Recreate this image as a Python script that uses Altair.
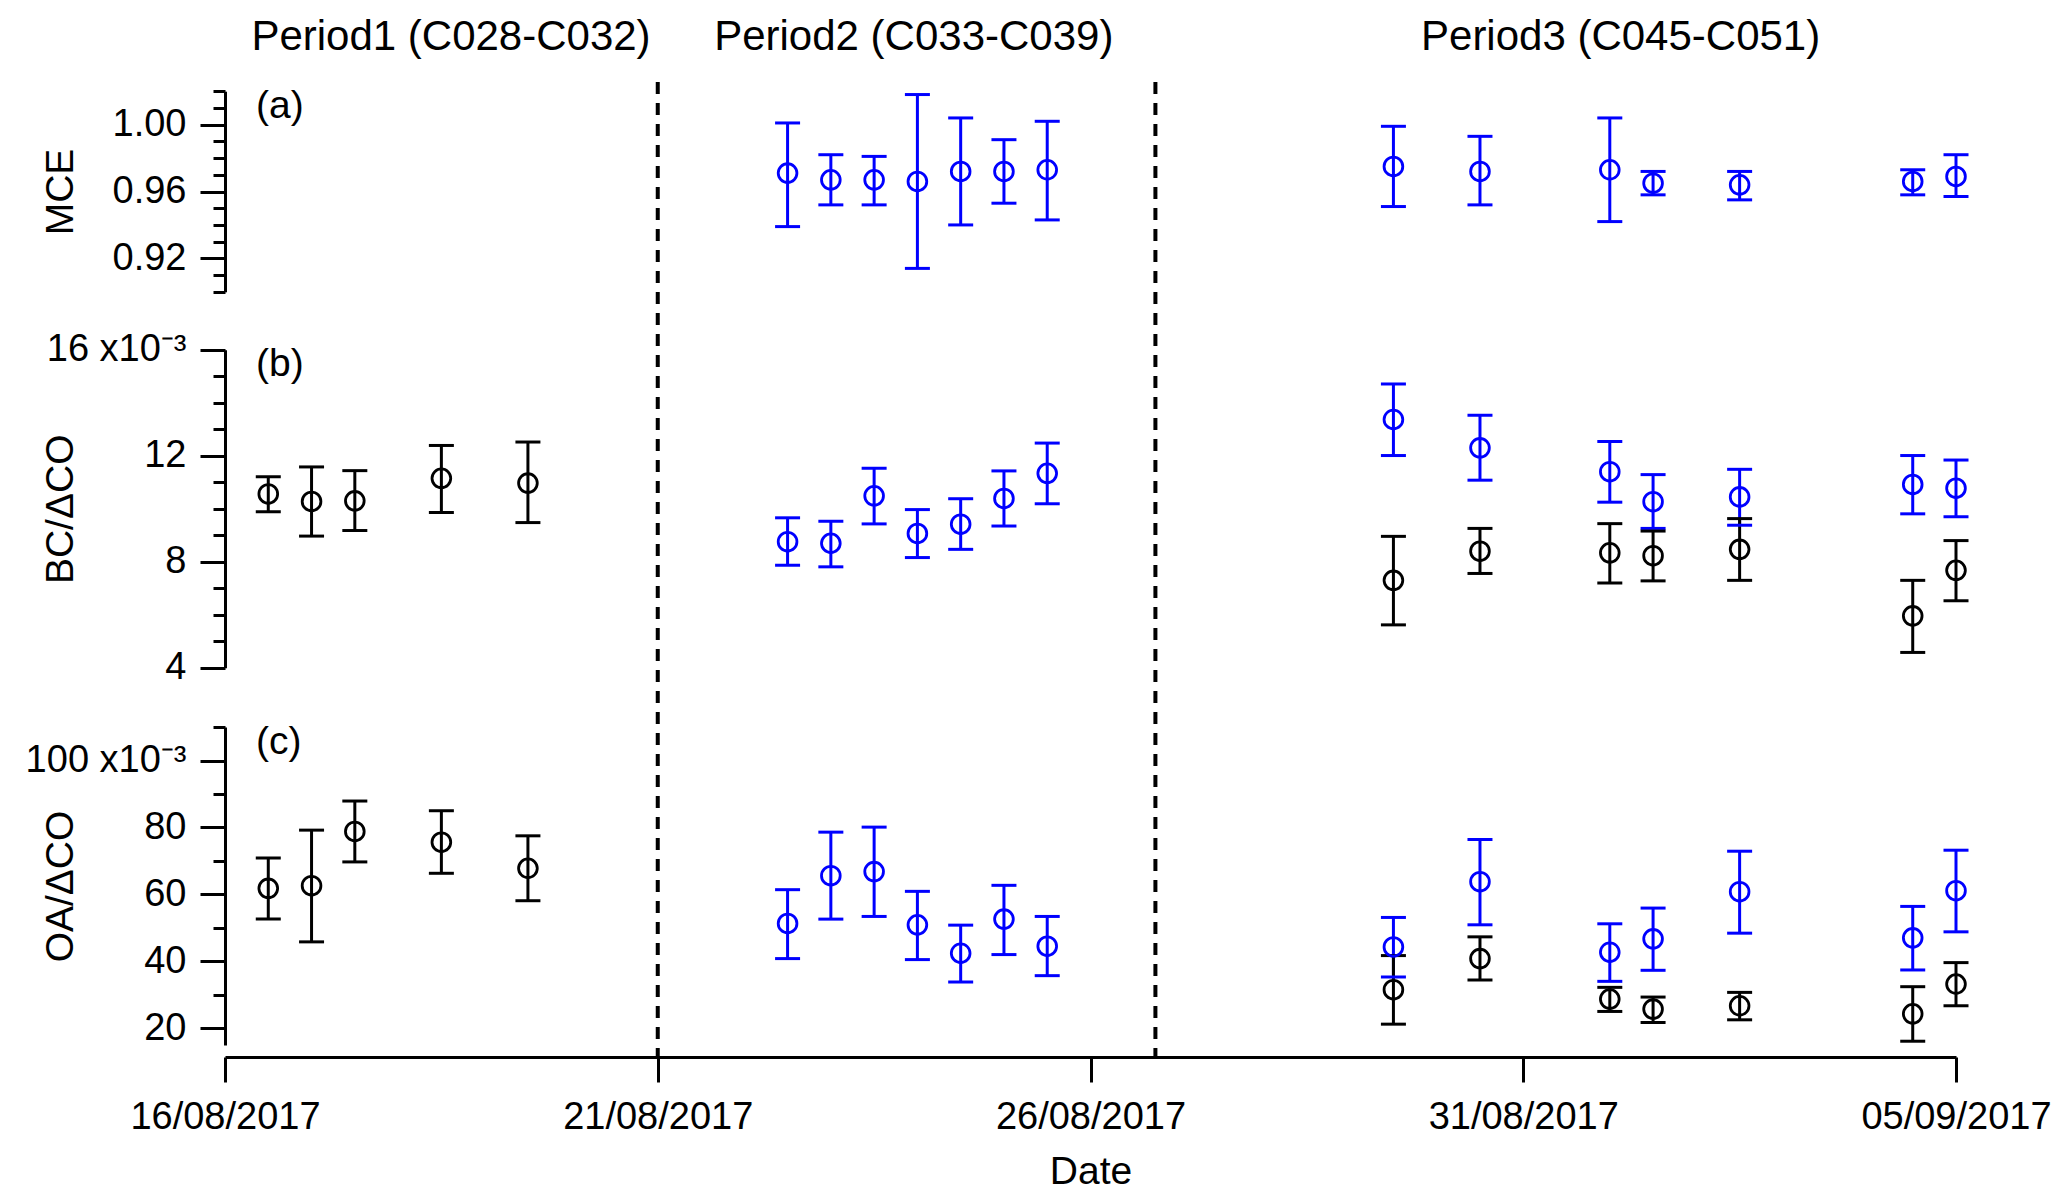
import altair as alt
import pandas as pd

FONT = "Liberation Sans"
BLUE = "#0000ff"
BLACK = "#000000"

# ---------------- data ----------------
dates_p1 = ["2017-08-16T12:00", "2017-08-17T00:00", "2017-08-17T12:00",
            "2017-08-18T12:00", "2017-08-19T12:00"]
dates_p2 = ["2017-08-22T12:00", "2017-08-23T00:00", "2017-08-23T12:00",
            "2017-08-24T00:00", "2017-08-24T12:00", "2017-08-25T00:00",
            "2017-08-25T12:00"]
dates_p3 = ["2017-08-29T12:00", "2017-08-30T12:00", "2017-09-01T00:00",
            "2017-09-01T12:00", "2017-09-02T12:00", "2017-09-04T12:00",
            "2017-09-05T00:00"]

# (a) MCE - blue
mce_p2 = [0.971, 0.967, 0.967, 0.966, 0.972, 0.972, 0.973]
mce_p2_lo = [0.939, 0.952, 0.952, 0.914, 0.940, 0.953, 0.943]
mce_p2_hi = [1.001, 0.982, 0.981, 1.018, 1.004, 0.991, 1.002]
mce_p3 = [0.975, 0.972, 0.973, 0.965, 0.964, 0.966, 0.969]
mce_p3_lo = [0.951, 0.952, 0.942, 0.958, 0.955, 0.958, 0.957]
mce_p3_hi = [0.999, 0.993, 1.004, 0.972, 0.972, 0.973, 0.982]

# (b) BC/dCO (x 10^-3)
bc_p1_k = [10.56, 10.28, 10.30, 11.15, 10.97]
bc_p1_k_lo = [9.89, 8.97, 9.18, 9.86, 9.48]
bc_p1_k_hi = [11.21, 11.58, 11.44, 12.39, 12.52]
bc_p2_b = [8.76, 8.70, 10.49, 9.07, 9.42, 10.39, 11.34]
bc_p2_b_lo = [7.87, 7.81, 9.43, 8.16, 8.47, 9.35, 10.19]
bc_p2_b_hi = [9.66, 9.53, 11.53, 9.97, 10.38, 11.43, 12.48]
bc_p3_b = [13.37, 12.30, 11.40, 10.27, 10.45, 10.92, 10.78]
bc_p3_b_lo = [12.01, 11.08, 10.25, 9.26, 9.38, 9.81, 9.70]
bc_p3_b_hi = [14.71, 13.53, 12.54, 11.29, 11.49, 12.01, 11.84]
bc_p3_k = [7.30, 8.40, 8.34, 8.23, 8.47, 5.96, 7.68]
bc_p3_k_lo = [5.62, 7.56, 7.20, 7.28, 7.30, 4.58, 6.53]
bc_p3_k_hi = [8.96, 9.26, 9.44, 9.16, 9.63, 7.30, 8.80]

# (c) OA/dCO (x 10^-3)
oa_p1_k = [61.8, 62.6, 78.8, 75.6, 67.8]
oa_p1_k_lo = [52.6, 45.8, 69.7, 66.3, 58.1]
oa_p1_k_hi = [70.9, 79.2, 87.9, 85.0, 77.5]
oa_p2_b = [51.3, 65.6, 66.8, 50.9, 42.4, 52.6, 44.5]
oa_p2_b_lo = [40.8, 52.6, 53.4, 40.5, 33.8, 42.0, 35.7]
oa_p2_b_hi = [61.4, 78.6, 80.1, 60.9, 50.8, 62.7, 53.4]
oa_p3_b = [44.3, 63.8, 42.7, 46.7, 60.8, 47.0, 61.1]
oa_p3_b_lo = [35.3, 50.9, 34.0, 37.3, 48.4, 37.4, 48.8]
oa_p3_b_hi = [53.1, 76.4, 51.2, 55.9, 72.9, 56.4, 73.2]
oa_p3_k = [31.5, 40.8, 28.7, 25.7, 26.7, 24.3, 33.2]
oa_p3_k_lo = [21.2, 34.4, 25.0, 21.7, 22.5, 16.1, 26.7]
oa_p3_k_hi = [41.7, 47.3, 32.2, 29.3, 30.7, 32.4, 39.6]

divider_dates = ["2017-08-21T00:00", "2017-08-26T18:00"]
period_labels = ["Period1 (C028-C032)", "Period2 (C033-C039)", "Period3 (C045-C051)"]
period_label_dates = ["2017-08-18T14:40", "2017-08-23T23:00", "2017-09-01T03:00"]
panel_letters = ["(a)", "(b)", "(c)"]

x_tick_dates = [(8, 16), (8, 21), (8, 26), (8, 31), (9, 5)]
x_domain = [(8, 16), (9, 5)]

# ---------------- helpers ----------------
def dt(md):
    return alt.DateTime(year=2017, month=md[0], date=md[1])


def xenc(field="date"):
    return alt.X(
        f"{field}:T",
        scale=alt.Scale(domain=[dt(d) for d in x_domain]),
        axis=alt.Axis(values=[dt(d) for d in x_tick_dates], format="%d/%m/%Y",
                      title="Date", tickSize=25, labelPadding=16, titlePadding=16,
                      grid=False, labelFlush=False, labelOverlap=False, labelLimit=0),
    )


def make_df(groups):
    rows = []
    for grp, dates, v, lo, hi in groups:
        for d, a, b, c in zip(dates, v, lo, hi):
            rows.append({"date": d, "v": a, "lo": b, "hi": c, "grp": grp})
    return pd.DataFrame(rows)


color = alt.Color("grp:N", scale=alt.Scale(domain=["black", "blue"], range=[BLACK, BLUE]),
                  legend=None)


def panel(df, title, domain, rng, values, major_test, label_expr):
    yaxis = alt.Axis(values=values, title=title, orient="left", labelExpr=label_expr,
                     tickSize={"condition": {"test": major_test, "value": 25}, "value": 12},
                     labelPadding=14, grid=False, titleX=-165, titleBaseline="middle",
                     labelOverlap=False, labelLimit=0)
    ysc = alt.Scale(domain=domain, range=rng, nice=False, zero=False)

    def Y(f):
        return alt.Y(f"{f}:Q", scale=ysc, axis=yaxis)

    base = alt.Chart(df)
    rule = base.mark_rule(strokeWidth=3).encode(x=xenc(), y=Y("lo"), y2=alt.Y2("hi:Q"), color=color)
    cap_lo = base.mark_tick(orient="horizontal", size=25, thickness=3, opacity=1).encode(
        x=xenc(), y=Y("lo"), color=color)
    cap_hi = base.mark_tick(orient="horizontal", size=25, thickness=3, opacity=1).encode(
        x=xenc(), y=Y("hi"), color=color)
    pts = base.mark_point(shape="circle", filled=False, size=350, strokeWidth=2.8, opacity=1).encode(
        x=xenc(), y=Y("v"), color=color)
    return alt.layer(rule, cap_lo, cap_hi, pts)


df_a = make_df([
    ("blue", dates_p2, mce_p2, mce_p2_lo, mce_p2_hi),
    ("blue", dates_p3, mce_p3, mce_p3_lo, mce_p3_hi),
])
df_b = make_df([
    ("blue", dates_p2, bc_p2_b, bc_p2_b_lo, bc_p2_b_hi),
    ("blue", dates_p3, bc_p3_b, bc_p3_b_lo, bc_p3_b_hi),
    ("black", dates_p1, bc_p1_k, bc_p1_k_lo, bc_p1_k_hi),
    ("black", dates_p3, bc_p3_k, bc_p3_k_lo, bc_p3_k_hi),
])
df_c = make_df([
    ("blue", dates_p2, oa_p2_b, oa_p2_b_lo, oa_p2_b_hi),
    ("blue", dates_p3, oa_p3_b, oa_p3_b_lo, oa_p3_b_hi),
    ("black", dates_p1, oa_p1_k, oa_p1_k_lo, oa_p1_k_hi),
    ("black", dates_p3, oa_p3_k, oa_p3_k_lo, oa_p3_k_hi),
])

mce_ticks = [round(0.90 + 0.01 * i, 2) for i in range(13)]
bc_ticks = list(range(4, 17))
oa_ticks = list(range(20, 111, 10))

pa = panel(df_a, "MCE", [0.90, 1.02], [209.8, 9.2], mce_ticks,
           "round(datum.value*100) % 4 == 0",
           "round(datum.value*100) % 4 == 0 ? format(datum.value, '.2f') : ''")
pb = panel(df_b, "BC/\u0394CO", [4, 16], [585.8, 267.8], bc_ticks,
           "round(datum.value) % 4 == 0",
           "round(datum.value) == 16 ? '16 x10\u207b\u00b3' : (round(datum.value) % 4 == 0 ? format(datum.value, 'd') : '')")
pc = panel(df_c, "OA/\u0394CO", [15, 110], [962.9, 645.1], oa_ticks,
           "round(datum.value) % 20 == 0",
           "round(datum.value) == 100 ? '100 x10\u207b\u00b3' : (round(datum.value) % 20 == 0 ? format(datum.value, 'd') : '')")

dashed = alt.Chart(pd.DataFrame({"date": divider_dates})).mark_rule(
    strokeDash=[12, 9], strokeWidth=4, color=BLACK).encode(x=xenc())

periods = alt.Chart(pd.DataFrame({"date": period_label_dates, "label": period_labels})).mark_text(
    font=FONT, fontSize=42, baseline="middle", align="center", color=BLACK).encode(
    x=xenc(), y=alt.value(-45), text="label:N")

letter_layers = []
for lab, yy in zip(panel_letters, [24, 282, 660]):
    letter_layers.append(
        alt.Chart(pd.DataFrame({"t": [lab]})).mark_text(
            font=FONT, fontSize=39, baseline="middle", align="left", color=BLACK).encode(
            x=alt.value(31), y=alt.value(yy), text="t:N"))

chart = alt.layer(pa, pb, pc, dashed, periods, *letter_layers).resolve_scale(
    y="independent"
).properties(
    width=1731, height=975,
    autosize=alt.AutoSizeParams(type="none"),
    padding={"left": 217, "top": 74, "right": 100, "bottom": 134},
).configure_axis(
    labelFont=FONT, titleFont=FONT, labelFontSize=38, titleFontSize=39,
    titleFontWeight="normal", labelColor=BLACK, titleColor=BLACK,
    domainColor=BLACK, tickColor=BLACK, domainWidth=3, tickWidth=3,
).configure_view(stroke=None)

chart.save("out.html", embed_options={"renderer": "svg", "actions": False})
